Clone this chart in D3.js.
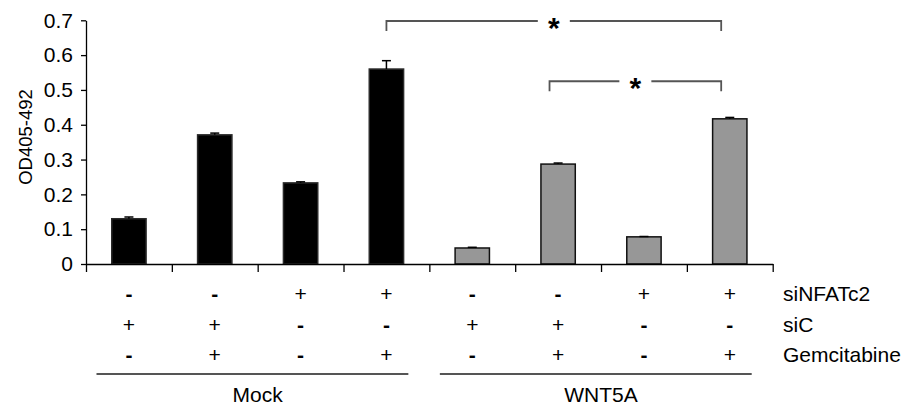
<!DOCTYPE html>
<html>
<head>
<meta charset="utf-8">
<script src="https://cdn.jsdelivr.net/npm/d3@7"></script>
<style>
  html, body { margin: 0; padding: 0; background: #fff; }
  svg { display: block; font-family: "Liberation Sans", Arial, sans-serif; }
</style>
</head>
<body>
<svg id="chart" width="906" height="406"></svg>
<script>
// ---- data ----
const categories = ["Mock-1", "Mock-2", "Mock-3", "Mock-4", "WNT5A-1", "WNT5A-2", "WNT5A-3", "WNT5A-4"];
const groupOf = ["Mock", "Mock", "Mock", "Mock", "WNT5A", "WNT5A", "WNT5A", "WNT5A"];
const groups = ["Mock", "WNT5A"];
const values = [0.130, 0.371, 0.233, 0.560, 0.046, 0.287, 0.078, 0.417];
const errors = [0.005, 0.005, 0.003, 0.024, 0.002, 0.003, 0.001, 0.004];
const yTicks = [0, 0.1, 0.2, 0.3, 0.4, 0.5, 0.6, 0.7];
const rowLabels = ["siNFATc2", "siC", "Gemcitabine"];
const siNFATc2 = ["-", "-", "+", "+", "-", "-", "+", "+"];
const siC = ["+", "+", "-", "-", "+", "+", "-", "-"];
const gemcitabine = ["-", "+", "-", "+", "-", "+", "-", "+"];
const yLabel = "OD405-492";
// significance brackets: endpoints in category-index units, height in data units
const bracketFrom = [3, 4.9];
const bracketTo = [6.9, 6.9];
const bracketLevel = [0.698, 0.525];
const bracketMark = ["*", "*"];

// ---- layout ----
const svg = d3.select("#chart");
const x0 = 86, x1 = 772.7, yBase = 264, yTop = 20.3;

const x = d3.scaleBand().domain(categories).range([x0, x1]).paddingInner(0.6).paddingOuter(0.3);
const y = d3.scaleLinear().domain([0, 0.7]).range([yBase, yTop]);
const idx = d3.scaleLinear().domain([0, categories.length]).range([x0, x1]);
const center = i => x(categories[0]) + x.bandwidth() / 2 + i * x.step();

const fillOf = { "Mock": "#000000", "WNT5A": "#979797" };
const strokeOf = { "Mock": "#2a2a2a", "WNT5A": "#111111" };

// bars
svg.append("g").selectAll("rect").data(values).join("rect")
  .attr("x", (d, i) => x(categories[i]))
  .attr("y", d => y(d))
  .attr("width", x.bandwidth())
  .attr("height", d => y(0) - y(d))
  .attr("fill", (d, i) => fillOf[groupOf[i]])
  .attr("stroke", (d, i) => strokeOf[groupOf[i]])
  .attr("stroke-width", 1.5);

// error bars (upper only)
const eb = svg.append("g").attr("stroke", "#000").attr("stroke-width", 1.5);
values.forEach((v, i) => {
  const cx = x(categories[i]) + x.bandwidth() / 2;
  eb.append("line").attr("x1", cx).attr("x2", cx).attr("y1", y(v)).attr("y2", y(v + errors[i]));
  eb.append("line").attr("x1", cx - 4.5).attr("x2", cx + 4.5).attr("y1", y(v + errors[i])).attr("y2", y(v + errors[i]));
});

// y axis
const yAxis = svg.append("g").attr("transform", `translate(${x0},0)`)
  .call(d3.axisLeft(y).tickValues(yTicks).tickSize(5).tickPadding(8).tickSizeOuter(0).tickFormat(d3.format("")));
yAxis.selectAll("text").attr("font-size", 21).attr("fill", "#000").attr("font-family", "Liberation Sans, Arial, sans-serif");
yAxis.selectAll("line,path").attr("stroke", "#000").attr("stroke-width", 1.3);

// x axis (band boundaries as ticks)
const xAxis = svg.append("g").attr("transform", `translate(0,${yBase})`)
  .call(d3.axisBottom(idx).tickValues(d3.range(categories.length + 1)).tickSize(8).tickSizeOuter(0).tickFormat(""));
xAxis.selectAll("line,path").attr("stroke", "#000").attr("stroke-width", 1.3);

// y label
svg.append("text")
  .attr("transform", `translate(32,137) rotate(-90)`)
  .attr("text-anchor", "middle")
  .attr("font-size", 18.5)
  .attr("fill", "#000")
  .text(yLabel);

// significance brackets
const br = svg.append("g");
bracketFrom.forEach((a, k) => {
  const xa = center(a), xb = center(bracketTo[k]), yy = y(bracketLevel[k]);
  const xm = (xa + xb) / 2, gap = 16, drop = 10;
  br.append("path")
    .attr("d", `M${xa},${yy + drop}V${yy}H${xm - gap}M${xm + gap},${yy}H${xb}V${yy + drop}`)
    .attr("fill", "none").attr("stroke", "#555").attr("stroke-width", 1.8);
  br.append("text")
    .attr("x", xm).attr("y", yy + 17)
    .attr("text-anchor", "middle")
    .attr("font-size", 30).attr("font-weight", "bold")
    .attr("fill", "#000")
    .text(bracketMark[k]);
});

// treatment table
const rows = [siNFATc2, siC, gemcitabine];
const rowBase = [301, 332, 362];
const tbl = svg.append("g").attr("font-size", 21).attr("fill", "#000");
rows.forEach((r, ri) => {
  r.forEach((s, i) => {
    tbl.append("text")
      .attr("x", x(categories[i]) + x.bandwidth() / 2)
      .attr("y", rowBase[ri])
      .attr("text-anchor", "middle")
      .attr("font-weight", s === "-" ? "bold" : "normal")
      .text(s);
  });
  tbl.append("text").attr("x", 783).attr("y", rowBase[ri]).text(rowLabels[ri]);
});

// group lines + labels
groups.forEach((g, gi) => {
  const members = d3.range(categories.length).filter(i => groupOf[i] === g);
  const gs = idx(d3.min(members)), ge = idx(d3.max(members) + 1);
  svg.append("line")
    .attr("x1", gs + 10.5).attr("x2", ge - 21)
    .attr("y1", 374).attr("y2", 374)
    .attr("stroke", "#555").attr("stroke-width", 2);
  svg.append("text")
    .attr("x", (gs + ge) / 2).attr("y", 402)
    .attr("text-anchor", "middle").attr("font-size", 21).attr("fill", "#000")
    .text(g);
});
</script>
</body>
</html>
